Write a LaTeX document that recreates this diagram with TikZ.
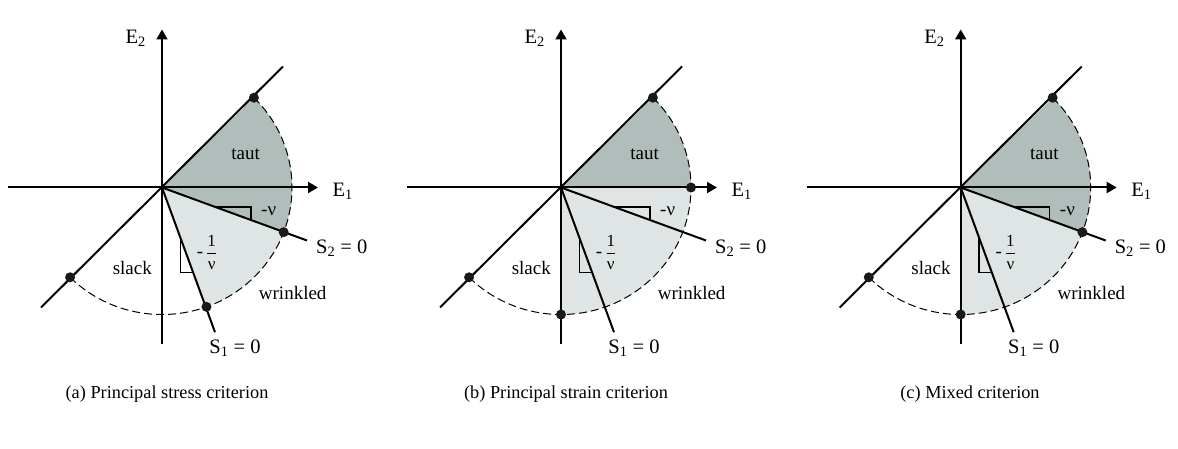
\documentclass[tikz,border=0pt]{standalone}
\usepackage{fontspec}
\setmainfont{Liberation Serif}
\usetikzlibrary{arrows.meta}
\newlength{\du}
\setlength{\du}{1pt}
\definecolor{tautcolor}{HTML}{B0BDBB}
\definecolor{wrinklecolor}{HTML}{DFE4E4}
\tikzset{
  axisline/.style={line width=2\du},
  axisarrow/.style={line width=2\du,-{Triangle[length=10pt,width=11pt]}},
  rightangle/.style={line width=1.5\du},
  arcline/.style={line width=1\du,dash pattern=on 8\du off 4\du},
  dotnode/.style={circle,fill=black!90,inner sep=0pt,minimum size=10\du},
  labeltext/.style={inner sep=0pt,font=\fontsize{19}{19}\selectfont},
  symboltext/.style={inner sep=0pt,font=\fontsize{20.5}{21}\selectfont},
  captiontext/.style={inner sep=0pt,font=\fontsize{18.3}{19}\selectfont},
  ragged/.style={x radius=130\du,y radius=127\du}
}
\newcommand{\smallfrac}{$\displaystyle\frac{\mbox{\fontsize{17}{17}\selectfont 1}}{\mbox{\fontsize{17}{17}\selectfont ν}}$}
% axes, criterion lines and labels of one panel
\newcommand{\panelbase}[1]{
\draw[axisarrow] (#1-xl) -- (#1-xr);
\draw[axisarrow] (#1-yb) -- (#1-yt);
\draw[axisline] (#1-dl) -- (#1-dr);
\draw[axisline] (#1-o) -- (#1-sa);
\draw[axisline] (#1-o) -- (#1-sb);
\draw[rightangle] (#1-ta) -- (#1-tb) -- (#1-tc);
\draw[rightangle] (#1-td) -- (#1-te) -- (#1-tf);
\node[symboltext] (#1-etwo) at (-26.3\du,-149\du) {E\textsubscript{2}};
\node[symboltext] (#1-eone) at (180.7\du,3.7\du) {E\textsubscript{1}};
\node[labeltext] (#1-taut) at (83.7\du,-33.5\du) {taut};
\node[labeltext] (#1-nu) at (106.7\du,23.5\du) {-ν};
\node[labeltext] (#1-frac) at (45\du,65\du) {-\,\smallfrac};
\node[labeltext] (#1-slack) at (-29.7\du,80.2\du) {slack};
\node[labeltext] (#1-wrinkled) at (130.7\du,105.2\du) {wrinkled};
\node[symboltext] (#1-stwo) at (179.7\du,60.8\du) {S\textsubscript{2} = 0};
\node[symboltext] (#1-sone) at (73\du,160.8\du) {S\textsubscript{1} = 0};
}
\newcommand{\panelcoords}[1]{
\coordinate (#1-o) at (0\du,0\du);
\coordinate (#1-xl) at (-154\du,0\du);
\coordinate (#1-xr) at (156\du,0\du);
\coordinate (#1-yb) at (0\du,156\du);
\coordinate (#1-yt) at (0\du,-158\du);
\coordinate (#1-dl) at (-121\du,120\du);
\coordinate (#1-dr) at (121\du,-121\du);
\coordinate (#1-sa) at (53\du,144.7\du);
\coordinate (#1-sb) at (145\du,53\du);
\coordinate (#1-ta) at (54\du,19.7\du);
\coordinate (#1-tb) at (89\du,19.7\du);
\coordinate (#1-tc) at (89\du,32.5\du);
\coordinate (#1-td) at (18.3\du,49.5\du);
\coordinate (#1-te) at (18.3\du,85\du);
\coordinate (#1-tf) at (31.4\du,85\du);
\coordinate (#1-at) at (-45:{130\du} and {127\du});
\coordinate (#1-ae) at (0:{130\du} and {127\du});
\coordinate (#1-at2) at (20.6:{130\du} and {127\du});
\coordinate (#1-at1) at (70:{130\du} and {127\du});
\coordinate (#1-ab) at (90:{130\du} and {127\du});
\coordinate (#1-al) at (135:{130\du} and {127\du});
}

\begin{document}
\begin{tikzpicture}
\pgftransformyscale{-1.000000}
\useasboundingbox (0\du,0\du) rectangle (1178\du,449\du);

\begin{scope}[shift={(162\du,187.5\du)}]
\panelcoords{a}
\fill[wrinklecolor] (a-o) -- (a-at2) arc[start angle=20.6,end angle=70,ragged] -- cycle;
\fill[tautcolor] (a-o) -- (a-at) arc[start angle=-45,end angle=20.6,ragged] -- cycle;
\panelbase{a}
\draw[arcline] (a-at) arc[start angle=-45,end angle=135,ragged];
\node[dotnode] (a-dott) at (a-at) {};
\node[dotnode] (a-dotl) at (a-al) {};
\node[dotnode] (a-dots) at (a-at2) {};
\node[dotnode] (a-dotw) at (a-at1) {};
\node[captiontext] (a-cap) at (5\du,206.5\du) {(a) Principal stress criterion};
\end{scope}

\begin{scope}[shift={(561\du,187.5\du)}]
\panelcoords{b}
\fill[wrinklecolor] (b-o) -- (b-ae) arc[start angle=0,end angle=90,ragged] -- cycle;
\fill[tautcolor] (b-o) -- (b-at) arc[start angle=-45,end angle=0,ragged] -- cycle;
\panelbase{b}
\draw[arcline] (b-at) arc[start angle=-45,end angle=135,ragged];
\node[dotnode] (b-dott) at (b-at) {};
\node[dotnode] (b-dotl) at (b-al) {};
\node[dotnode] (b-dote) at (b-ae) {};
\node[dotnode] (b-dotb) at (b-ab) {};
\node[captiontext] (b-cap) at (5\du,206.5\du) {(b) Principal strain criterion};
\end{scope}

\begin{scope}[shift={(960.7\du,187.5\du)}]
\panelcoords{c}
\fill[wrinklecolor] (c-o) -- (c-at2) arc[start angle=20.6,end angle=90,ragged] -- cycle;
\fill[tautcolor] (c-o) -- (c-at) arc[start angle=-45,end angle=20.6,ragged] -- cycle;
\panelbase{c}
\draw[arcline] (c-at) arc[start angle=-45,end angle=135,ragged];
\node[dotnode] (c-dott) at (c-at) {};
\node[dotnode] (c-dotl) at (c-al) {};
\node[dotnode] (c-dots) at (c-at2) {};
\node[dotnode] (c-dotb) at (c-ab) {};
\node[captiontext] (c-cap) at (9.3\du,206.5\du) {(c) Mixed criterion};
\end{scope}
\end{tikzpicture}
\end{document}
